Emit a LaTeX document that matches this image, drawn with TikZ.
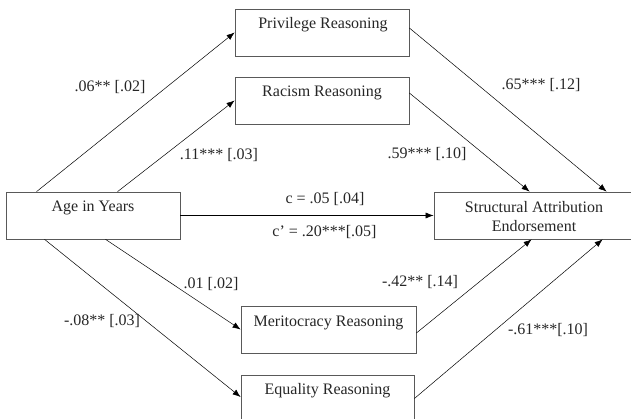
\documentclass[tikz,border=0pt]{standalone}
\usepackage{fontspec}
\setmainfont{Liberation Serif}
\usetikzlibrary{arrows.meta}
\begin{document}
\begin{tikzpicture}[x=1pt,y=-1pt,
  box/.style={draw=black!65, line width=0.8pt, rectangle, minimum height=47pt, inner sep=0pt},
  txt/.style={anchor=base, inner sep=0pt, text=black!85, font=\fontsize{16}{19}\selectfont},
  arr/.style={draw=black, line width=0.5pt, -{Latex[length=8pt,width=6pt]}}]
\useasboundingbox (0,0) rectangle (631,419);
% boxes
\node[box, minimum width=174pt] (priv) at (322,32.5) {};
\node[box, minimum width=174pt] (rac) at (322,100.5) {};
\node[box, minimum width=174pt] (age) at (93,215.5) {};
\node[box, minimum width=200pt] (str) at (534,215.5) {};
\node[box, minimum width=175pt] (mer) at (328.5,329.5) {};
\node[box, minimum width=173pt] (equ) at (327.5,398.5) {};
% box texts
\node[txt] (privt) at (323,28.5) {Privilege Reasoning};
\node[txt] (ract) at (322,96.5) {Racism Reasoning};
\node[txt] (aget) at (93,211.5) {Age in Years};
\node[txt] (strt1) at (534,212.5) {Structural Attribution};
\node[txt] (strt2) at (534,231.5) {Endorsement};
\node[txt] (mert) at (328.5,326) {Meritocracy Reasoning};
\node[txt] (equt) at (327.5,394.5) {Equality Reasoning};
% arrows
\draw[arr] ([xshift=31pt]age.north west) -- (priv.west);
\draw[arr] ([xshift=112pt]age.north west) -- (rac.west);
\draw[arr] ([yshift=4.5pt]priv.east) -- ([xshift=173pt]str.north west);
\draw[arr] ([yshift=7.5pt]rac.east) -- ([xshift=96pt]str.north west);
\draw[arr] (age.east) -- (str.west);
\draw[arr] ([xshift=100pt]age.south west) -- (mer.west);
\draw[arr] ([xshift=39pt]age.south west) -- ([yshift=1.5pt]equ.west);
\draw[arr] ([yshift=-3.5pt]mer.east) -- ([xshift=98pt]str.south west);
\draw[arr] (equ.east) -- ([xshift=169pt]str.south west);
% labels
\node[txt] (l1) at (110,92) {.06** [.02]};
\node[txt] (l2) at (219,160) {.11*** [.03]};
\node[txt] (l3) at (541,90) {.65*** [.12]};
\node[txt] (l4) at (427,159) {.59*** [.10]};
\node[txt] (l5) at (325,204) {c = .05 [.04]};
\node[txt] (l6) at (324.5,237) {c’ = .20***[.05]};
\node[txt] (l7) at (211,289) {.01 [.02]};
\node[txt] (l8) at (102,325) {-.08** [.03]};
\node[txt] (l9) at (420,287) {-.42** [.14]};
\node[txt] (l10) at (548,334) {-.61***[.10]};
\end{tikzpicture}
\end{document}
